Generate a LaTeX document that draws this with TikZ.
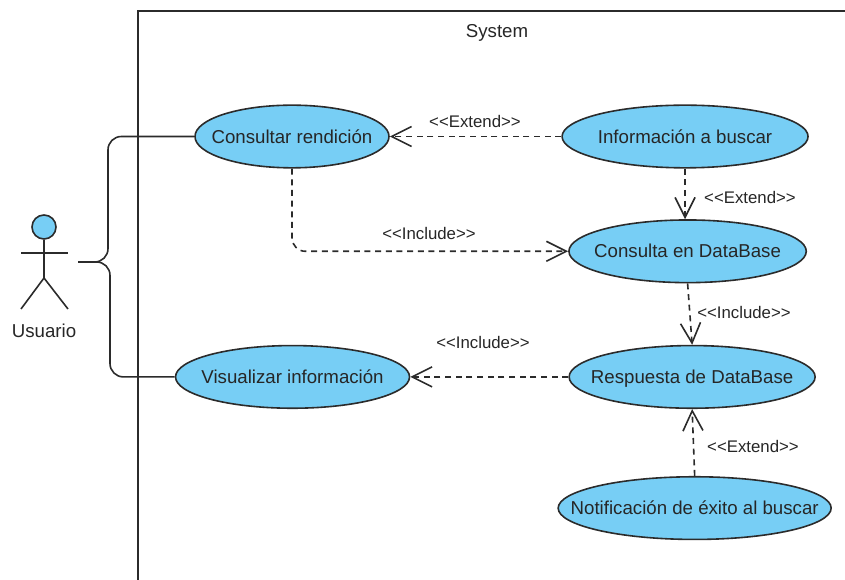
\documentclass[tikz,border=0pt]{standalone}
\usepackage{fontspec}
\setmainfont{Liberation Sans}
\usetikzlibrary{arrows.meta, positioning, shapes.geometric}

\definecolor{usecasefill}{HTML}{77CEF5}
\definecolor{linegray}{HTML}{2B2B2B}

\newcommand{\stereo}[1]{<{}<#1>{}>}

\tikzset{
    usecase/.style={ellipse, draw=linegray, line width=1.2pt, fill=usecasefill, inner xsep=-30pt, inner ysep=-8pt,
        minimum height=47pt, text height=12pt, text depth=2pt, font=\fontsize{14}{16}\selectfont, text=black!85},
    assoc/.style={draw=linegray, line width=1.2pt, rounded corners=10pt},
    depend/.style={draw=linegray, line width=1.2pt, dash pattern=on 4.5pt off 3.5pt,
        -{Straight Barb[length=15pt, width=15pt, line width=1.2pt]}},
    stereolabel/.style={font=\fontsize{12.6}{14}\selectfont, text=black!85, inner sep=0pt},
    actorlabel/.style={font=\fontsize{14}{16}\selectfont, text=black!85},
}

\begin{document}
\begin{tikzpicture}[x=0.75pt, y=-0.75pt]
        \useasboundingbox (0,0) rectangle (845,580);

        % Create system boundary
        \draw[draw=linegray, line width=1.2pt] (138,580) -- (138,11) -- (845,11);
        \node[actorlabel] (system) at (497,33) {System};

        % Create actor
        \node[circle, draw=linegray, line width=1.2pt, fill=usecasefill, minimum size=18pt, inner sep=0pt] (head) at (44,227) {};
        \coordinate (hip) at (44,278);
        \coordinate (armleft) at (21,253);
        \coordinate (armright) at (68,253);
        \coordinate (footleft) at (21,309);
        \coordinate (footright) at (68,309);
        \coordinate (actorend) at (78,262);
        \draw[draw=linegray, line width=1.2pt] (head.south) -- (hip);
        \draw[draw=linegray, line width=1.2pt] (armleft) -- (armright);
        \draw[draw=linegray, line width=1.2pt] (footleft) -- (hip) -- (footright);
        \node[actorlabel] (usuario) at (44,331) {Usuario};

        % Create use cases
        \node[usecase, minimum width=145.5pt] (consultar) at (292,136.5) {Consultar rendición};
        \node[usecase, minimum width=184.5pt, right=128.6pt of consultar] (informacion) {Información a buscar};
        \node[usecase, minimum width=178pt, below=37.9pt of informacion, xshift=1.9pt] (consulta) {Consulta en DataBase};
        \node[usecase, minimum width=184.5pt, below=46pt of consulta, xshift=3.4pt] (respuesta) {Respuesta de DataBase};
        \node[usecase, minimum width=175.5pt, left=118.5pt of respuesta] (visualizar) {Visualizar información};
        \node[usecase, minimum width=204.75pt, below=50.2pt of respuesta, xshift=1.9pt] (notificacion) {Notificación de éxito al buscar};

        % Draw associations
        \draw[assoc] (actorend) -- (108,262) |- (consultar.west);
        \draw[assoc] (actorend) -- (110,262) |- (visualizar.west);

        % Draw dependencies
        \draw[depend] (informacion.west) -- (consultar.east);
        \draw[depend, rounded corners=10pt] (consultar.south) |- (consulta.west);
        \draw[depend] (informacion.south) -- (informacion.south |- consulta.north);
        \draw[depend] (consulta.south) -- (respuesta.north);
        \draw[depend] (respuesta.west) -- (visualizar.east);
        \draw[depend] (notificacion.north) -- (respuesta.south);

        % Labels
        \node[stereolabel] (extendtop) at (475,121) {\stereo{Extend}};
        \node[stereolabel] (includetop) at (429,233) {\stereo{Include}};
        \node[stereolabel] (extendright) at (750,197) {\stereo{Extend}};
        \node[stereolabel] (includeright) at (744,312) {\stereo{Include}};
        \node[stereolabel] (includelow) at (483,342) {\stereo{Include}};
        \node[stereolabel] (extendlow) at (753,446) {\stereo{Extend}};
    \end{tikzpicture}
\end{document}
